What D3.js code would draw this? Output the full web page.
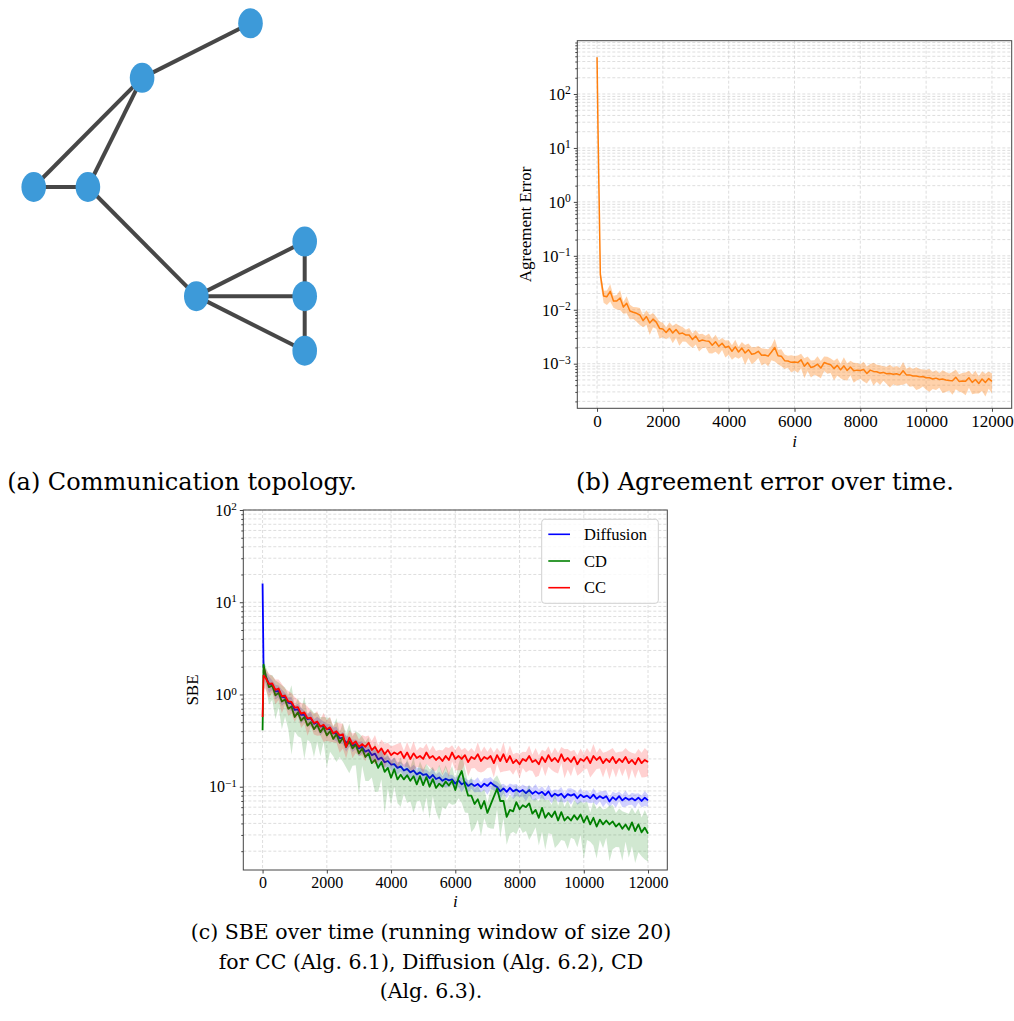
<!DOCTYPE html>
<html>
<head>
<meta charset="utf-8">
<script src="https://cdn.jsdelivr.net/npm/d3@7"></script>
<style>
  body { margin: 0; background: #fff; }
  svg { display: block; }
</style>
</head>
<body>
<div id="figure"></div>
<script>
// ---- data ----
// sample points (iteration i) shared by every series below
const iters = [0, 30].concat(d3.range(100, 12001, 100));
const xTicks = [0, 2000, 4000, 6000, 8000, 10000, 12000];

// (a) communication topology, node positions on a layout grid
const nodeCol = [4, 2, 0, 1, 3, 5, 5, 5];
const nodeRow = [0, 1, 3, 3, 5, 4, 5, 6];
const edges = [[0, 1], [1, 2], [1, 3], [2, 3], [3, 4], [4, 5], [4, 6], [4, 7], [5, 6], [6, 7]];

// (b) agreement error: mean and relative spread of the shaded band
const agreeMean = [480, 20,
  4.5e-2, 1.8e-2, 1.75e-2, 2.2e-2, 1.45e-2, 1.45e-2, 1.65e-2, 1.12e-2, 1.32e-2, 0.95e-2,
  9.0e-3, 8.6e-3, 8.0e-3, 6.3e-3, 7.5e-3, 5.7e-3, 6.7e-3, 5.9e-3, 4.5e-3, 4.4e-3,
  3.8e-3, 4.5e-3, 3.7e-3, 4.3e-3, 3.6e-3, 3.7e-3, 3.4e-3, 3.4e-3, 2.8e-3, 3.25e-3,
  2.6e-3, 2.75e-3, 2.65e-3, 2.6e-3, 2.2e-3, 2.55e-3, 2.1e-3, 2.4e-3, 2.0e-3, 2.1e-3,
  1.7e-3, 2.05e-3, 1.65e-3, 1.95e-3, 1.58e-3, 1.82e-3, 1.5e-3, 1.55e-3, 1.7e-3, 1.43e-3,
  1.45e-3, 1.38e-3, 1.65e-3, 2.0e-3, 1.4e-3, 1.38e-3, 1.14e-3, 1.12e-3, 1.06e-3, 1.07e-3,
  1.05e-3, 1.18e-3, 9.0e-4, 1.05e-3, 8.5e-4, 8.9e-4, 9.8e-4, 8.3e-4, 1.05e-3, 1.0e-3,
  9.6e-4, 8.1e-4, 9.3e-4, 7.7e-4, 9.1e-4, 7.5e-4, 8.7e-4, 7.4e-4, 7.6e-4, 7.5e-4,
  7.8e-4, 6.6e-4, 7.6e-4, 7.2e-4, 7.1e-4, 6.7e-4, 6.9e-4, 6.5e-4, 6.6e-4, 6.4e-4,
  6.5e-4, 6.2e-4, 7.4e-4, 6.2e-4, 6.2e-4, 5.9e-4, 5.9e-4, 5.7e-4, 5.8e-4, 5.5e-4,
  5.5e-4, 5.2e-4, 5.4e-4, 5.1e-4, 5.2e-4, 5.0e-4, 4.9e-4, 4.85e-4, 5.6e-4, 4.7e-4,
  4.8e-4, 4.75e-4, 5.5e-4, 4.5e-4, 5.1e-4, 4.3e-4, 5.2e-4, 4.5e-4, 5.3e-4, 4.7e-4];
const agreeSpread = [0.1, 0.3,
  0.3, 0.25, 0.3, 0.35, 0.25, 0.3, 0.4, 0.25, 0.35, 0.3,
  0.25, 0.3, 0.35, 0.25, 0.3, 0.4, 0.3, 0.25, 0.35, 0.3,
  0.25, 0.3, 0.35, 0.3, 0.4, 0.3, 0.25, 0.35, 0.3, 0.3,
  0.35, 0.3, 0.25, 0.4, 0.3, 0.35, 0.3, 0.25, 0.35, 0.3,
  0.3, 0.35, 0.25, 0.3, 0.4, 0.3, 0.35, 0.3, 0.25, 0.35,
  0.3, 0.35, 0.3, 0.45, 0.3, 0.35, 0.3, 0.25, 0.35, 0.3,
  0.35, 0.3, 0.4, 0.3, 0.35, 0.3, 0.4, 0.35, 0.3, 0.35,
  0.3, 0.4, 0.35, 0.3, 0.45, 0.35, 0.3, 0.4, 0.35, 0.3,
  0.4, 0.35, 0.3, 0.45, 0.35, 0.4, 0.3, 0.35, 0.45, 0.35,
  0.4, 0.35, 0.45, 0.3, 0.4, 0.35, 0.45, 0.4, 0.35, 0.4,
  0.45, 0.35, 0.4, 0.3, 0.45, 0.4, 0.35, 0.45, 0.4, 0.35,
  0.4, 0.45, 0.35, 0.4, 0.45, 0.35, 0.4, 0.45, 0.35, 0.4];

// (c) SBE, running window of size 20
const sbeNames = ["Diffusion", "CD", "CC"];
const sbeColors = ["#0000ff", "#008000", "#ff0000"];
const diffusionMean = [16, 2.0,
  1.55, 1.3, 1.27, 1.08, 1.09, 0.94, 0.93, 0.81, 0.8, 0.68,
  0.69, 0.6, 0.6, 0.54, 0.55, 0.48, 0.5, 0.45, 0.455, 0.42,
  0.425, 0.38, 0.38, 0.335, 0.34, 0.3, 0.31, 0.28, 0.29, 0.26,
  0.27, 0.24, 0.25, 0.22, 0.228, 0.198, 0.207, 0.184, 0.19, 0.174,
  0.176, 0.16, 0.166, 0.15, 0.156, 0.143, 0.15, 0.136, 0.143, 0.134,
  0.137, 0.124, 0.134, 0.121, 0.126, 0.116, 0.122, 0.117, 0.12, 0.108,
  0.117, 0.106, 0.112, 0.102, 0.108, 0.102, 0.107, 0.099, 0.108, 0.102,
  0.111, 0.104, 0.099, 0.089, 0.096, 0.088, 0.097, 0.089, 0.093, 0.088,
  0.092, 0.085, 0.092, 0.084, 0.089, 0.084, 0.088, 0.081, 0.089, 0.078,
  0.084, 0.08, 0.084, 0.076, 0.083, 0.08, 0.083, 0.075, 0.082, 0.077,
  0.08, 0.075, 0.082, 0.074, 0.079, 0.075, 0.079, 0.069, 0.077, 0.072,
  0.079, 0.071, 0.076, 0.072, 0.075, 0.071, 0.076, 0.07, 0.076, 0.071];
const diffusionSpread = [0.1, 0.2,
  0.15, 0.2, 0.12, 0.18, 0.15, 0.2, 0.12, 0.15, 0.18, 0.12,
  0.15, 0.2, 0.12, 0.15, 0.18, 0.12, 0.15, 0.2, 0.12, 0.15,
  0.12, 0.15, 0.18, 0.12, 0.15, 0.2, 0.12, 0.15, 0.12, 0.18,
  0.15, 0.12, 0.18, 0.15, 0.12, 0.15, 0.2, 0.12, 0.15, 0.12,
  0.18, 0.15, 0.12, 0.15, 0.2, 0.12, 0.15, 0.18, 0.12, 0.15,
  0.12, 0.15, 0.18, 0.12, 0.15, 0.12, 0.2, 0.15, 0.12, 0.15,
  0.15, 0.18, 0.12, 0.15, 0.12, 0.15, 0.18, 0.12, 0.15, 0.2,
  0.15, 0.12, 0.15, 0.18, 0.12, 0.15, 0.12, 0.18, 0.15, 0.12,
  0.15, 0.18, 0.12, 0.15, 0.2, 0.12, 0.15, 0.12, 0.18, 0.15,
  0.12, 0.15, 0.18, 0.12, 0.15, 0.2, 0.12, 0.15, 0.18, 0.12,
  0.15, 0.12, 0.18, 0.15, 0.12, 0.2, 0.15, 0.12, 0.15, 0.18,
  0.12, 0.15, 0.2, 0.12, 0.15, 0.18, 0.12, 0.15, 0.18, 0.15];
const cdMean = [0.41, 2.1,
  1.6, 1.2, 1.25, 0.98, 1.04, 0.84, 0.88, 0.7, 0.74, 0.57,
  0.64, 0.52, 0.57, 0.46, 0.5, 0.42, 0.47, 0.39, 0.44, 0.36,
  0.4, 0.33, 0.37, 0.3, 0.34, 0.27, 0.31, 0.26, 0.285, 0.23,
  0.26, 0.21, 0.23, 0.18, 0.195, 0.16, 0.185, 0.145, 0.16, 0.125,
  0.155, 0.12, 0.135, 0.12, 0.133, 0.116, 0.13, 0.106, 0.13, 0.104,
  0.127, 0.1, 0.121, 0.097, 0.108, 0.1, 0.114, 0.103, 0.116, 0.092,
  0.125, 0.148, 0.105, 0.08, 0.08, 0.065, 0.073, 0.058, 0.07, 0.052,
  0.064, 0.078, 0.095, 0.07, 0.07, 0.047, 0.056, 0.054, 0.068, 0.057,
  0.063, 0.06, 0.066, 0.051, 0.056, 0.046, 0.059, 0.046, 0.052, 0.047,
  0.054, 0.043, 0.053, 0.043, 0.047, 0.043, 0.049, 0.044, 0.05, 0.041,
  0.048, 0.039, 0.046, 0.037, 0.044, 0.039, 0.043, 0.039, 0.042, 0.037,
  0.04, 0.035, 0.039, 0.034, 0.041, 0.033, 0.039, 0.032, 0.036, 0.031];
const cdSpread = [0.1, 0.2,
  0.25, 0.35, 0.3, 0.45, 0.3, 0.5, 0.35, 0.4, 0.7, 0.3,
  0.45, 0.35, 0.65, 0.3, 0.4, 0.5, 0.35, 0.45, 0.3, 0.55,
  0.4, 0.35, 0.5, 0.3, 0.45, 0.4, 0.55, 0.35, 0.4, 0.65,
  0.35, 0.45, 0.5, 0.3, 0.55, 0.45, 0.35, 0.65, 0.4, 0.5,
  0.35, 0.45, 0.55, 0.3, 0.5, 0.4, 0.6, 0.35, 0.45, 0.5,
  0.4, 0.55, 0.35, 0.45, 0.6, 0.4, 0.5, 0.35, 0.45, 0.3,
  0.4, 0.55, 0.5, 0.35, 0.6, 0.45, 0.4, 0.5, 0.35, 0.3,
  0.45, 0.55, 0.4, 0.6, 0.35, 0.5, 0.45, 0.4, 0.55, 0.35,
  0.5, 0.45, 0.6, 0.4, 0.35, 0.5, 0.45, 0.55, 0.4, 0.35,
  0.6, 0.45, 0.5, 0.4, 0.55, 0.35, 0.45, 0.5, 0.4, 0.6,
  0.45, 0.35, 0.5, 0.55, 0.4, 0.45, 0.35, 0.6, 0.5, 0.4,
  0.45, 0.55, 0.35, 0.5, 0.45, 0.55, 0.5, 0.45, 0.55, 0.5];
const ccMean = [0.57, 1.6,
  1.5, 1.3, 1.32, 1.12, 1.16, 0.96, 0.97, 0.84, 0.83, 0.72,
  0.73, 0.62, 0.64, 0.55, 0.56, 0.49, 0.51, 0.45, 0.47, 0.42,
  0.44, 0.38, 0.4, 0.36, 0.37, 0.27, 0.34, 0.29, 0.31, 0.27,
  0.29, 0.27, 0.3, 0.25, 0.27, 0.235, 0.26, 0.225, 0.25, 0.22,
  0.235, 0.225, 0.24, 0.205, 0.235, 0.2, 0.23, 0.205, 0.215, 0.2,
  0.235, 0.205, 0.215, 0.195, 0.21, 0.19, 0.215, 0.195, 0.235, 0.2,
  0.215, 0.2, 0.22, 0.185, 0.21, 0.2, 0.225, 0.19, 0.21, 0.2,
  0.215, 0.18, 0.22, 0.19, 0.225, 0.185, 0.215, 0.18, 0.195, 0.175,
  0.2, 0.19, 0.215, 0.185, 0.195, 0.175, 0.21, 0.185, 0.22, 0.19,
  0.205, 0.185, 0.225, 0.19, 0.205, 0.185, 0.21, 0.175, 0.2, 0.19,
  0.21, 0.18, 0.215, 0.195, 0.21, 0.18, 0.2, 0.185, 0.21, 0.18,
  0.2, 0.185, 0.21, 0.18, 0.195, 0.175, 0.205, 0.18, 0.195, 0.185];
const ccSpread = [0.1, 0.25,
  0.25, 0.3, 0.2, 0.3, 0.25, 0.35, 0.2, 0.3, 0.25, 0.3,
  0.2, 0.3, 0.25, 0.35, 0.2, 0.25, 0.3, 0.2, 0.35, 0.25,
  0.3, 0.2, 0.25, 0.35, 0.3, 0.25, 0.2, 0.3, 0.25, 0.2,
  0.25, 0.3, 0.2, 0.25, 0.35, 0.2, 0.25, 0.3, 0.2, 0.25,
  0.2, 0.3, 0.25, 0.2, 0.3, 0.25, 0.35, 0.2, 0.25, 0.3,
  0.25, 0.2, 0.3, 0.25, 0.2, 0.3, 0.25, 0.35, 0.2, 0.25,
  0.3, 0.25, 0.2, 0.3, 0.25, 0.2, 0.35, 0.25, 0.3, 0.2,
  0.25, 0.3, 0.2, 0.25, 0.35, 0.2, 0.3, 0.25, 0.2, 0.3,
  0.2, 0.25, 0.3, 0.2, 0.35, 0.25, 0.2, 0.3, 0.25, 0.2,
  0.3, 0.25, 0.2, 0.35, 0.25, 0.3, 0.2, 0.25, 0.3, 0.2,
  0.25, 0.3, 0.35, 0.2, 0.25, 0.3, 0.2, 0.35, 0.25, 0.3,
  0.2, 0.3, 0.25, 0.35, 0.2, 0.3, 0.25, 0.3, 0.35, 0.3];

const serif = "'Liberation Serif', 'Times New Roman', serif";
const captionFont = "'DejaVu Serif', serif";

const svg = d3.select("#figure")
  .append("svg")
  .attr("width", 1014)
  .attr("height", 1021);

// ---- (a) topology ----
const gx = d3.scaleLinear().domain([0, 5]).range([33.7, 304.7]);
const gy = d3.scaleLinear().domain([0, 6]).range([23.3, 350.7]);

svg.append("g")
  .selectAll("line")
  .data(edges)
  .join("line")
  .attr("x1", d => gx(nodeCol[d[0]]))
  .attr("y1", d => gy(nodeRow[d[0]]))
  .attr("x2", d => gx(nodeCol[d[1]]))
  .attr("y2", d => gy(nodeRow[d[1]]))
  .attr("stroke", "#474747")
  .attr("stroke-width", 4);

svg.append("g")
  .selectAll("ellipse")
  .data(d3.range(nodeCol.length))
  .join("ellipse")
  .attr("cx", k => gx(nodeCol[k]))
  .attr("cy", k => gy(nodeRow[k]))
  .attr("rx", 12.3)
  .attr("ry", 15)
  .attr("fill", "#3d9ad9");

// ---- shared log-y panel ----
function logPanel(cfg) {
  const x = d3.scaleLinear().domain([-600, 12600]).range([cfg.left, cfg.right]);
  const y = d3.scaleLog().domain(cfg.yDomain).range([cfg.bottom, cfg.top]);

  // decade and in-between tick values inside the domain
  const majors = [], minors = [];
  const e0 = Math.floor(Math.log10(cfg.yDomain[0]));
  const e1 = Math.ceil(Math.log10(cfg.yDomain[1]));
  for (let e = e0; e <= e1; e++) {
    for (let m = 1; m <= 9; m++) {
      const v = m * Math.pow(10, e);
      if (v < cfg.yDomain[0] || v > cfg.yDomain[1] * 1.000001) continue;
      if (m === 1) majors.push(v); else minors.push(v);
    }
  }

  const grid = svg.append("g")
    .attr("stroke", "#d6d6d6")
    .attr("stroke-width", 0.8)
    .attr("stroke-dasharray", "3,2");
  grid.selectAll(".gy")
    .data(majors.concat(minors))
    .join("line")
    .attr("class", "gy")
    .attr("x1", cfg.left).attr("x2", cfg.right)
    .attr("y1", d => y(d)).attr("y2", d => y(d));
  grid.selectAll(".gx")
    .data(xTicks)
    .join("line")
    .attr("class", "gx")
    .attr("y1", cfg.top).attr("y2", cfg.bottom)
    .attr("x1", d => x(d)).attr("x2", d => x(d));

  // bottom axis
  const xAxis = svg.append("g")
    .attr("transform", `translate(0, ${cfg.bottom})`)
    .call(d3.axisBottom(x).tickValues(xTicks).tickSize(3.5).tickPadding(3.5).tickFormat(d3.format("d")));
  xAxis.select(".domain").remove();
  xAxis.attr("font-family", serif).attr("font-size", cfg.xFont);
  xAxis.selectAll("line").attr("stroke", "#444");

  // left axis, decades with 10^k labels
  const yAxis = svg.append("g")
    .attr("transform", `translate(${cfg.left}, 0)`)
    .call(d3.axisLeft(y).tickValues(majors).tickSize(3.5).tickPadding(3).tickFormat(() => ""));
  yAxis.select(".domain").remove();
  yAxis.attr("font-family", serif).attr("font-size", cfg.yFont);
  yAxis.selectAll("line").attr("stroke", "#444");
  yAxis.selectAll(".tick text").each(function(d) {
    const e = Math.round(Math.log10(d));
    const t = d3.select(this);
    t.append("tspan").text("10");
    t.append("tspan")
      .attr("dy", "-0.5em")
      .attr("font-size", "0.7em")
      .text(e < 0 ? "\u2212" + (-e) : String(e));
  });

  // minor ticks
  const yMinor = svg.append("g")
    .attr("transform", `translate(${cfg.left}, 0)`)
    .call(d3.axisLeft(y).tickValues(minors).tickSize(2).tickFormat(() => ""));
  yMinor.select(".domain").remove();
  yMinor.selectAll("line").attr("stroke", "#444");

  const clipId = "clip-" + cfg.name;
  svg.append("clipPath").attr("id", clipId)
    .append("rect")
    .attr("x", cfg.left).attr("y", cfg.top)
    .attr("width", cfg.right - cfg.left).attr("height", cfg.bottom - cfg.top);
  const plot = svg.append("g").attr("clip-path", `url(#${clipId})`);

  // axis titles
  svg.append("text")
    .attr("transform", `translate(${cfg.yLabelX}, ${(cfg.top + cfg.bottom) / 2}) rotate(-90)`)
    .attr("text-anchor", "middle")
    .attr("dy", "0.35em")
    .attr("font-family", serif)
    .attr("font-size", 17)
    .text(cfg.yLabel);
  svg.append("text")
    .attr("x", (cfg.left + cfg.right) / 2)
    .attr("y", cfg.xLabelY)
    .attr("text-anchor", "middle")
    .attr("font-family", serif)
    .attr("font-style", "italic")
    .attr("font-size", 17)
    .text("i");

  return { x, y, plot, frame: cfg };
}

function frameBox(p) {
  const c = p.frame;
  svg.append("rect")
    .attr("x", c.left).attr("y", c.top)
    .attr("width", c.right - c.left).attr("height", c.bottom - c.top)
    .attr("fill", "none")
    .attr("stroke", "#444")
    .attr("stroke-width", 1);
}

function drawSeries(p, mean, spread, color, lineWidth, bandOpacity) {
  const idx = d3.range(iters.length);
  const band = d3.area()
    .x(k => p.x(iters[k]))
    .y0(k => p.y(mean[k] * (1 - spread[k])))
    .y1(k => p.y(mean[k] * (1 + spread[k])));
  const line = d3.line()
    .x(k => p.x(iters[k]))
    .y(k => p.y(mean[k]));
  p.plot.append("path")
    .attr("d", band(idx))
    .attr("fill", color)
    .attr("opacity", bandOpacity);
  p.plot.append("path")
    .attr("d", line(idx))
    .attr("fill", "none")
    .attr("stroke", color)
    .attr("stroke-width", lineWidth)
    .attr("stroke-linejoin", "round");
}

// ---- (b) agreement error ----
const panelB = logPanel({
  name: "b", left: 577.3, right: 1011.7, top: 40.7, bottom: 408.3,
  yDomain: [1.49e-4, 973], xFont: 17, yFont: 16.5,
  yLabel: "Agreement Error", yLabelX: 525, xLabelY: 446.5
});
drawSeries(panelB, agreeMean, agreeSpread, "#ff7f0e", 1.5, 0.35);
frameBox(panelB);

// ---- (c) SBE ----
const panelC = logPanel({
  name: "c", left: 243.3, right: 667.3, top: 510, bottom: 870,
  yDomain: [0.0125, 100], xFont: 16, yFont: 16,
  yLabel: "SBE", yLabelX: 191.7, xLabelY: 906.5
});
const sbeMeans = [diffusionMean, cdMean, ccMean];
const sbeSpreads = [diffusionSpread, cdSpread, ccSpread];
sbeNames.forEach((name, k) => {
  drawSeries(panelC, sbeMeans[k], sbeSpreads[k], sbeColors[k], 1.8, 0.18);
});
frameBox(panelC);

// legend
const legend = svg.append("g");
legend.append("rect")
  .attr("x", 541.7).attr("y", 519.3)
  .attr("width", 116.6).attr("height", 84)
  .attr("rx", 3)
  .attr("fill", "#fff").attr("fill-opacity", 0.8)
  .attr("stroke", "#d0d0d0");
sbeNames.forEach((name, k) => {
  const cy = 534.3 + k * 26.7;
  legend.append("line")
    .attr("x1", 548.3).attr("x2", 570)
    .attr("y1", cy).attr("y2", cy)
    .attr("stroke", sbeColors[k]).attr("stroke-width", 1.6);
  legend.append("text")
    .attr("x", 584).attr("y", cy + 5.5)
    .attr("font-family", serif).attr("font-size", 16.5)
    .text(name);
});

// ---- captions ----
const captions = [
  { x: 182, y: 490, size: 24, text: "(a) Communication topology." },
  { x: 765, y: 490, size: 24, text: "(b) Agreement error over time." },
  { x: 431, y: 939, size: 20.5, text: "(c) SBE over time (running window of size 20)" },
  { x: 431, y: 969, size: 20.5, text: "for CC (Alg. 6.1), Diffusion (Alg. 6.2), CD" },
  { x: 431, y: 998, size: 20.5, text: "(Alg. 6.3)." }
];
svg.append("g")
  .selectAll("text")
  .data(captions)
  .join("text")
  .attr("x", d => d.x)
  .attr("y", d => d.y)
  .attr("text-anchor", "middle")
  .attr("font-family", captionFont)
  .attr("font-size", d => d.size)
  .text(d => d.text);
</script>
</body>
</html>
